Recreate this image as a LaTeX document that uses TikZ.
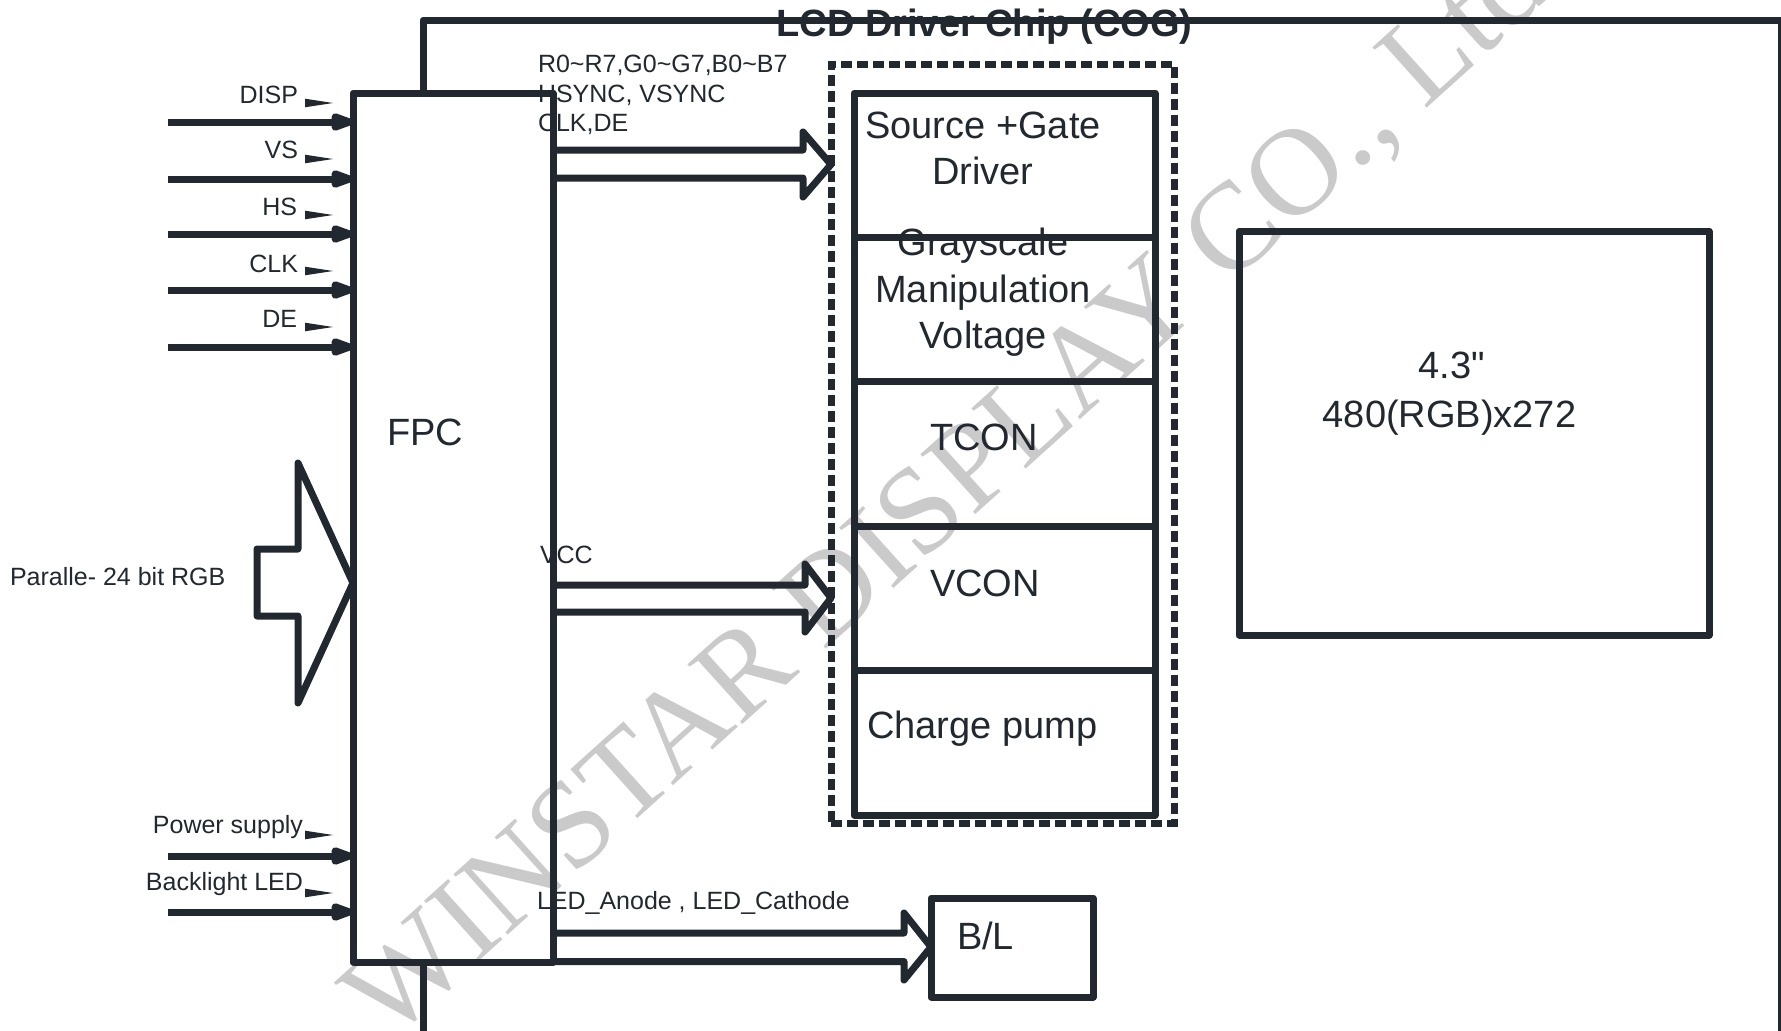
\documentclass[tikz,border=0pt]{standalone}
\usepackage{fontspec}
\setmainfont{Liberation Sans}[Ligatures=TeXOff]
\newfontfamily\wmfont{Liberation Serif}
\usetikzlibrary{arrows.meta}
\definecolor{ink}{RGB}{34,40,48}
\definecolor{wm}{RGB}{202,202,202}
\begin{document}
\begin{tikzpicture}[x=1pt,y=-1pt,
  every node/.style={inner sep=0pt, outer sep=0pt},
  ln/.style={draw=ink, line width=7pt, line join=round},
  box/.style={ln, rectangle},
  small/.style={text=ink, font=\fontsize{25}{30}\selectfont},
  big/.style={text=ink, font=\fontsize{38}{46}\selectfont},
  inarrow/.style={draw=ink, line width=7pt, -{Triangle[length=30pt,width=18pt,round]}},
  wedge/.style={fill=ink},
  chipbox/.style={draw=ink, line width=7pt, dash pattern=on 11pt off 5pt},
]
\useasboundingbox (0,0) rectangle (1781,1031);
\fill[white] (0,0) rectangle (1781,1031);

% watermark
\node[rotate=42, text=wm, font=\wmfont\fontsize{124}{124}\selectfont] (wmark) at (948,494) {WINSTAR DISPLAY CO., Ltd};

% title
\node[anchor=base, text=ink, font=\bfseries\fontsize{38}{46}\selectfont] (title) at (984.5,36) {LCD Driver Chip (COG)};

% main blocks
\node[box, minimum width=200pt, minimum height=869pt] (fpc) at (453,527.5) {};
\node[chipbox, minimum width=343pt, minimum height=759pt] (chip) at (1002.5,443.5) {};
\node[box, minimum width=301pt, minimum height=144.4pt] (sgd)  at (1004.5,165.2) {};
\node[box, minimum width=301pt, minimum height=144.4pt] (gmv)  at (1004.5,309.6) {};
\node[box, minimum width=301pt, minimum height=144.4pt] (tcon) at (1004.5,454.0) {};
\node[box, minimum width=301pt, minimum height=144.4pt] (vcon) at (1004.5,598.4) {};
\node[box, minimum width=301pt, minimum height=144.4pt] (cp)   at (1004.5,742.8) {};
\node[box, minimum width=470pt, minimum height=404pt] (panel) at (1474,433) {};
\node[box, minimum width=162pt, minimum height=99pt] (bl) at (1012,947.5) {};

% outer frame
\draw[ln] (423,0 |- fpc.north) -- (423,20) -- (1781,20) -- (1781,1031);
\draw[ln] (423,0 |- fpc.south) -- (423,1031);

% texts in blocks
\node[big, anchor=base west] (fpct) at (387,445) {FPC};
\node[big, anchor=base] (t1a) at (983,138) {Source +Gate};
\node[big, anchor=base] (t1b) at (983,184) {Driver};
\node[big, anchor=base] (t2a) at (983,255) {Grayscale};
\node[big, anchor=base] (t2b) at (983,302) {Manipulation};
\node[big, anchor=base] (t2c) at (983,348) {Voltage};
\node[big, anchor=base] (t3) at (984,450) {TCON};
\node[big, anchor=base] (t4) at (985,596) {VCON};
\node[big, anchor=base west] (t5) at (867,738) {Charge pump};
\node[big, anchor=base] (p1) at (1452,378) {4.3"};
\node[big, anchor=base] (p2) at (1449.5,427) {480(RGB)x272};
\node[big, anchor=base west] (blt) at (957,949) {B/L};

% input signals
\foreach \nm/\yl in {DISP/122, VS/179, HS/234, CLK/290, DE/347, PWR/856, BLED/912}{
  \coordinate (in\nm) at (168,\yl);
  \draw[inarrow] (in\nm) -- (in\nm -| fpc.west);
}
\node[small, anchor=base east] (lDISP) at (298,103) {DISP};
\node[small, anchor=base east] (lVS) at (298,158) {VS};
\node[small, anchor=base east] (lHS) at (297,215) {HS};
\node[small, anchor=base east] (lCLK) at (298,272) {CLK};
\node[small, anchor=base east] (lDE) at (297,327) {DE};
\node[small, anchor=base east] (lPWR) at (303,833) {Power supply};
\node[small, anchor=base east] (lBLED) at (303,890) {Backlight LED};
\foreach \wy in {103,159,215,271,327,835,893}{
  \fill[wedge] (305,\wy-4.3) -- (333,\wy) -- (305,\wy+4.3) -- cycle;
}

% parallel RGB big arrow
\coordinate (rgbtip) at (fpc.west |- 0,583);
\draw[ln] (rgbtip) -- (298,463) -- (298,549) -- (257,549) -- (257,616) -- (298,616) -- (298,703) -- cycle;
\node[small, anchor=base west] (lRGB) at (10,585) {Paralle- 24 bit RGB};

% buses
\draw[ln] (fpc.east |- 0,150) -- (803,150) -- (803,132) -- (chip.west |- 0,164.5) -- (803,197) -- (803,178) -- (fpc.east |- 0,178);
\node[small, anchor=base west] (lbus1) at (538,72) {R0\textasciitilde R7,G0\textasciitilde G7,B0\textasciitilde B7};
\node[small, anchor=base west] (lbus2) at (538,102) {HSYNC, VSYNC};
\node[small, anchor=base west] (lbus3) at (538,131) {CLK,DE};

\draw[ln] (fpc.east |- 0,585) -- (805,585) -- (805,564) -- (chip.west |- 0,598) -- (805,632) -- (805,612) -- (fpc.east |- 0,612);
\node[small, anchor=base west] (lvcc) at (540,563) {VCC};

\draw[ln] (fpc.east |- 0,933) -- (904,933) -- (904,913) -- (bl.west |- 0,947) -- (904,980) -- (904,961.5) -- (fpc.east |- 0,961.5);
\node[small, anchor=base west] (lled) at (537,909) {LED\_Anode , LED\_Cathode};
\end{tikzpicture}
\end{document}
